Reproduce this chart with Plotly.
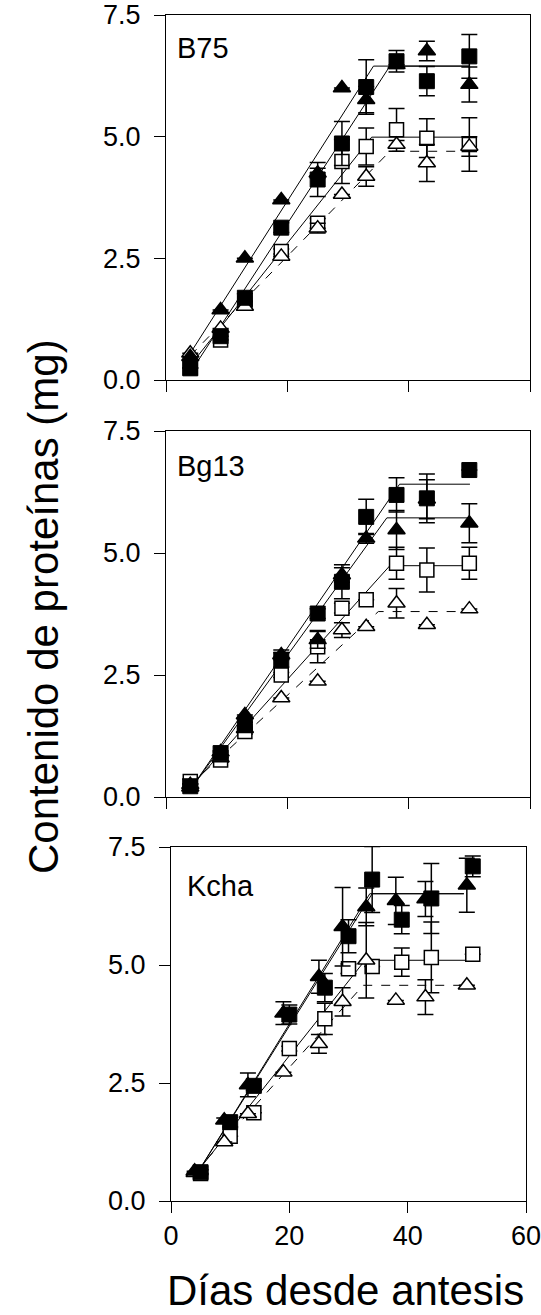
import plotly.graph_objects as go

# ---------------- data ----------------
# sampling days (days after anthesis)
days_a = [4, 9, 13, 19, 25, 29, 33, 38, 43, 50]
days_k_sq = [5, 10, 14, 20, 26, 30, 34, 39, 44, 51]
days_k_tr = [4, 9, 13, 19, 25, 29, 33, 38, 43, 50]

panel_names = ["B75", "Bg13", "Kcha"]

# B75
b75_fsq = [0.24, 0.90, 1.69, 3.13, 4.12, 4.86, 6.02, 6.55, 6.14, 6.65]
b75_fsq_err = [0, 0, 0.08, 0.10, 0.35, 0.45, 0.56, 0.22, 0.30, 0.45]
b75_ftr = [0.48, 1.44, 2.50, 3.70, 4.25, 6.00, 5.76, 6.48, 6.76, 6.07]
b75_ftr_err = [0, 0, 0, 0, 0.10, 0, 0.27, 0, 0.20, 0.36]
b75_osq = [0.25, 0.82, 1.58, 2.64, 3.22, 4.49, 4.80, 5.14, 4.97, 4.84]
b75_osq_err = [0, 0, 0.05, 0.05, 0.10, 0.45, 0.38, 0.44, 0.40, 0.55]
b75_otr = [0.55, 1.06, 1.51, 2.54, 3.12, 3.81, 4.18, 4.84, 4.46, 4.80]
b75_otr_err = [0, 0, 0, 0, 0.10, 0, 0.20, 0.08, 0.38, 0.20]

# Bg13
bg13_fsq = [0.22, 0.90, 1.48, 2.81, 3.76, 4.41, 5.74, 6.19, 6.12, 6.70]
bg13_fsq_err = [0.05, 0.05, 0.05, 0.15, 0.10, 0.35, 0.36, 0.35, 0.50, 0]
bg13_ftr = [0.20, 0.92, 1.68, 2.91, 3.22, 4.55, 5.30, 5.47, 6.10, 5.61]
bg13_ftr_err = [0, 0, 0, 0.10, 0.17, 0.15, 0.10, 0.40, 0.40, 0.40]
bg13_osq = [0.32, 0.76, 1.34, 2.50, 3.08, 3.87, 4.04, 4.79, 4.65, 4.79]
bg13_osq_err = [0.05, 0.05, 0.05, 0.05, 0.33, 0.10, 0, 0.33, 0.45, 0.33]
bg13_otr = [0.25, 0.80, 1.40, 2.03, 2.37, 3.42, 3.49, 3.97, 3.53, 3.85]
bg13_otr_err = [0, 0, 0, 0, 0, 0.15, 0, 0.30, 0, 0]

# Kcha
kcha_fsq = [0.61, 1.67, 2.44, 3.95, 4.52, 5.61, 6.81, 5.96, 6.41, 7.09]
kcha_fsq_err = [0.05, 0.10, 0.10, 0.20, 0.30, 0.35, 0.70, 0.30, 0.74, 0.22]
kcha_ftr = [0.63, 1.71, 2.46, 3.98, 4.75, 5.81, 6.23, 6.36, 6.40, 6.69]
kcha_ftr_err = [0, 0.05, 0.25, 0.24, 0.35, 0.83, 0.40, 0.50, 0.37, 0.57]
kcha_osq = [0.58, 1.37, 1.87, 3.23, 3.86, 4.92, 4.97, 5.06, 5.16, 5.23]
kcha_osq_err = [0, 0, 0, 0.05, 0.33, 0.10, 0, 0.30, 0.75, 0]
kcha_otr = [0.60, 1.25, 1.85, 2.73, 3.33, 4.22, 5.10, 4.25, 4.32, 4.57]
kcha_otr_err = [0, 0, 0, 0, 0.20, 0.30, 0.80, 0, 0.37, 0]

# bilinear (linear-plateau) fits: x start, y start, breakpoint x, plateau y, x end
b75_fit_fsq = [4, 0.15, 36.9, 6.45, 50.1]
b75_fit_ftr = [4, 0.55, 34.2, 6.45, 50.1]
b75_fit_osq = [4, 0.30, 33.9, 4.99, 50.1]
b75_fit_otr = [4, 0.50, 36.9, 4.70, 50.1]

bg13_fit_fsq = [4, 0.15, 38.5, 6.41, 50.1]
bg13_fit_ftr = [4, 0.15, 36.4, 5.72, 50.1]
bg13_fit_osq = [4, 0.20, 36.9, 4.74, 50.1]
bg13_fit_otr = [4, 0.25, 35.0, 3.80, 50.1]

kcha_fit_fsq = [4, 0.50, 34.0, 6.51, 49.5]
kcha_fit_ftr = [4, 0.50, 33.6, 6.51, 49.5]
kcha_fit_osq = [4, 0.55, 32.8, 5.10, 50.5]
kcha_fit_otr = [4, 0.60, 32.5, 4.57, 49.5]

y_ticks = [0, 2.5, 5, 7.5]
x_ticks = [0, 20, 40, 60]

# ---------------- layout geometry (pixels) ----------------
W, H = 541, 1315
# left, right, top, bottom of each plotting box
boxes = [(166, 530, 15, 380), (166, 530, 431, 797), (171, 526, 847, 1201)]

FONT = "Liberation Sans, Arial, sans-serif"

panels = [
    dict(xs=days_a, xt=days_a,
         fsq=(b75_fsq, b75_fsq_err), ftr=(b75_ftr, b75_ftr_err),
         osq=(b75_osq, b75_osq_err), otr=(b75_otr, b75_otr_err),
         fits=(b75_fit_fsq, b75_fit_ftr, b75_fit_osq, b75_fit_otr)),
    dict(xs=days_a, xt=days_a,
         fsq=(bg13_fsq, bg13_fsq_err), ftr=(bg13_ftr, bg13_ftr_err),
         osq=(bg13_osq, bg13_osq_err), otr=(bg13_otr, bg13_otr_err),
         fits=(bg13_fit_fsq, bg13_fit_ftr, bg13_fit_osq, bg13_fit_otr)),
    dict(xs=days_k_sq, xt=days_k_tr,
         fsq=(kcha_fsq, kcha_fsq_err), ftr=(kcha_ftr, kcha_ftr_err),
         osq=(kcha_osq, kcha_osq_err), otr=(kcha_otr, kcha_otr_err),
         fits=(kcha_fit_fsq, kcha_fit_ftr, kcha_fit_osq, kcha_fit_otr)),
]

fig = go.Figure()


def err(vals):
    return dict(type="data", array=vals, visible=True, color="black",
                thickness=1.5, width=8)


for i, p in enumerate(panels):
    xa = "x" if i == 0 else f"x{i + 1}"
    ya = "y" if i == 0 else f"y{i + 1}"

    # fitted lines
    for k, f in enumerate(p["fits"]):
        x0, y0, xb, yp, x1 = f
        fig.add_trace(go.Scatter(
            x=[x0, xb, x1], y=[y0, yp, yp], mode="lines",
            line=dict(color="black", width=1,
                      dash="dash" if k == 3 else "solid"),
            xaxis=xa, yaxis=ya, showlegend=False, hoverinfo="skip"))

    # open squares
    fig.add_trace(go.Scatter(
        x=p["xs"], y=p["osq"][0], mode="markers", error_y=err(p["osq"][1]),
        marker=dict(symbol="square", size=14, color="white",
                    line=dict(color="black", width=1.5)),
        xaxis=xa, yaxis=ya, showlegend=False, cliponaxis=False))
    # open triangles
    fig.add_trace(go.Scatter(
        x=p["xt"], y=p["otr"][0], mode="markers", error_y=err(p["otr"][1]),
        marker=dict(symbol="triangle-up", size=15, color="white",
                    line=dict(color="black", width=1.5)),
        xaxis=xa, yaxis=ya, showlegend=False, cliponaxis=False))
    # filled triangles
    fig.add_trace(go.Scatter(
        x=p["xt"], y=p["ftr"][0], mode="markers", error_y=err(p["ftr"][1]),
        marker=dict(symbol="triangle-up", size=15, color="black",
                    line=dict(color="black", width=1.5)),
        xaxis=xa, yaxis=ya, showlegend=False, cliponaxis=False))
    # filled squares
    fig.add_trace(go.Scatter(
        x=p["xs"], y=p["fsq"][0], mode="markers", error_y=err(p["fsq"][1]),
        marker=dict(symbol="square", size=15, color="black",
                    line=dict(color="black", width=1)),
        xaxis=xa, yaxis=ya, showlegend=False, cliponaxis=False))

layout = dict(
    width=W, height=H, margin=dict(l=0, r=0, t=0, b=0, autoexpand=False),
    paper_bgcolor="white", plot_bgcolor="white",
    font=dict(family=FONT, color="black", size=26),
    showlegend=False,
)

axis_common = dict(showline=True, linecolor="black", linewidth=1, mirror=True,
                   ticks="outside", ticklen=11, tickwidth=1, tickcolor="black",
                   showgrid=False, zeroline=False, automargin=False,
                   ticklabeloverflow="allow",
                   tickfont=dict(family=FONT, size=27, color="black"))

for i, (l, r, t, b) in enumerate(boxes):
    xk = "xaxis" if i == 0 else f"xaxis{i + 1}"
    yk = "yaxis" if i == 0 else f"yaxis{i + 1}"
    ya_name = "y" if i == 0 else f"y{i + 1}"
    xa_name = "x" if i == 0 else f"x{i + 1}"
    layout[xk] = dict(axis_common, domain=[l / W, r / W], range=[0, 60],
                      tickvals=x_ticks, showticklabels=(i == 2),
                      anchor=ya_name)
    layout[yk] = dict(axis_common, domain=[1 - b / H, 1 - t / H],
                      range=[0, 7.5], tickvals=y_ticks, tickformat=".1f",
                      ticklabelstandoff=8, anchor=xa_name)

annotations = []
label_offsets = [(9, 15), (9, 17), (14, 21)]
for i, (l, r, t, b) in enumerate(boxes):
    dx, dy = label_offsets[i]
    annotations.append(dict(
        text=panel_names[i], xref="paper", yref="paper",
        x=(l + dx) / W, y=1 - (t + dy) / H, xanchor="left", yanchor="top",
        showarrow=False, font=dict(family=FONT, size=29, color="black")))

annotations.append(dict(
    text="Contenido de proteínas (mg)", xref="paper", yref="paper",
    x=44 / W, y=1 - 607 / H, xanchor="center", yanchor="middle",
    textangle=-90, showarrow=False,
    font=dict(family=FONT, size=42, color="black")))
annotations.append(dict(
    text="Días desde antesis", xref="paper", yref="paper",
    x=345 / W, y=1 - 1290 / H, xanchor="center", yanchor="middle",
    showarrow=False, font=dict(family=FONT, size=42, color="black")))

layout["annotations"] = annotations
fig.update_layout(**layout)

fig.write_html("out.html")
